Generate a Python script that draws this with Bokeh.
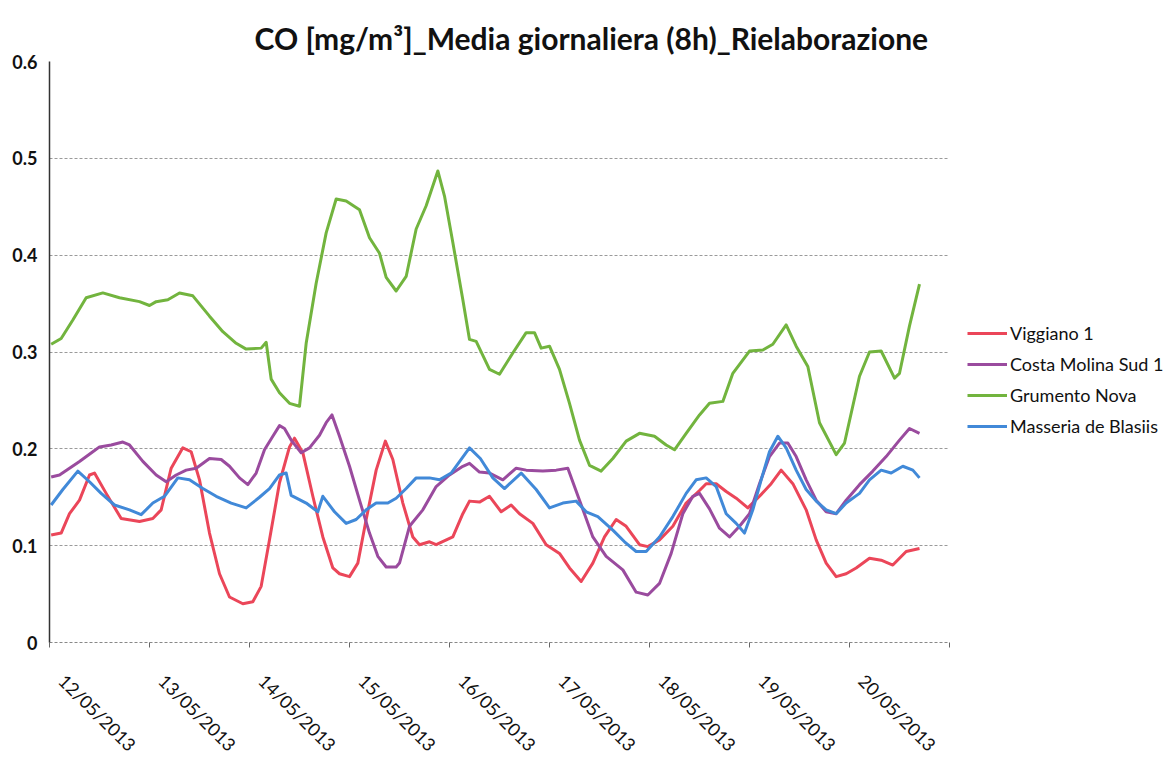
from bokeh.plotting import figure
from bokeh.models import Range1d, FixedTicker, Legend, LegendItem
from bokeh.embed import file_html
from bokeh.resources import INLINE

# hours elapsed since 12/05/2013 00:00
tick_labels = ["12/05/2013", "13/05/2013", "14/05/2013", "15/05/2013", "16/05/2013",
               "17/05/2013", "18/05/2013", "19/05/2013", "20/05/2013"]
n_days = 9
y_ticks = [0, 0.1, 0.2, 0.3, 0.4, 0.5, 0.6]
y_labels = ["0", "0.1", "0.2", "0.3", "0.4", "0.5", "0.6"]

series_names = ["Viggiano 1", "Costa Molina Sud 1", "Grumento Nova", "Masseria de Blasiis"]

viggiano_h = [0.4, 2.8, 4.8, 7.2, 9.6, 10.8, 13.6, 17.2, 21.6, 24.8, 26.8, 29.2, 32, 34, 36, 38.4, 40.8, 43.2,
              46.4, 48.8, 50.8, 52.8, 55.2, 57.6, 58.8, 60.8, 63.2, 65.6, 68, 69.6, 72, 74, 76, 78.4, 80.6,
              82.4, 84.8, 87.2, 88.8, 91.2, 92.8, 96.8, 99.2, 100.8, 103.2, 105.6, 108.4, 110.8, 112.8, 116,
              119.2, 122.4, 124.8, 127.6, 130.4, 133.2, 136, 138.4, 141.6, 143.6, 146.4, 149.6, 152.8, 156,
              157.6, 160, 162.4, 164.8, 167.6, 170.4, 173.2, 175.6, 178.4, 181.6, 184, 186.4, 188.8, 191.2,
              193.6, 196.8, 199.6, 202.4, 205.6, 208.8]
viggiano_v = [0.111, 0.113, 0.133, 0.147, 0.173, 0.175, 0.154, 0.128, 0.125, 0.128, 0.137, 0.180, 0.201, 0.197,
              0.168, 0.113, 0.071, 0.047, 0.040, 0.042, 0.058, 0.106, 0.165, 0.202, 0.211, 0.196, 0.151, 0.109,
              0.077, 0.071, 0.068, 0.082, 0.127, 0.178, 0.208, 0.189, 0.144, 0.109, 0.101, 0.104, 0.101, 0.109,
              0.133, 0.146, 0.145, 0.151, 0.135, 0.142, 0.133, 0.123, 0.101, 0.092, 0.077, 0.063, 0.082, 0.109,
              0.127, 0.120, 0.101, 0.099, 0.106, 0.120, 0.144, 0.157, 0.164, 0.164, 0.156, 0.149, 0.139, 0.151,
              0.164, 0.178, 0.164, 0.137, 0.106, 0.082, 0.068, 0.071, 0.077, 0.087, 0.085, 0.080, 0.094, 0.097]

costa_h = [0.4, 2.4, 7.2, 10.4, 12, 14.8, 17.6, 19.2, 22.4, 25.6, 28, 30.4, 32.8, 35.2, 38.4, 41.2, 43.2, 45.6,
           47.6, 49.6, 51.6, 53.6, 55.2, 56.4, 58, 60.4, 62.4, 64.8, 66.4, 67.8, 69.6, 72, 74.4, 76.8, 78.8, 80.8,
           83.2, 84, 86.4, 89.6, 92.8, 96, 99.2, 100.8, 103.2, 105.6, 108.8, 112, 114.4, 118.4, 121.6, 124.4,
           127.2, 130.4, 133.6, 137.6, 140.8, 143.6, 146.4, 149.2, 152, 154.4, 156, 158.4, 160.8, 163.2, 165.6,
           168, 170.4, 172.8, 175.2, 177.2, 179.2, 181.6, 184, 186.4, 188.8, 191.2, 194.4, 197.6, 200.8, 204,
           206.4, 208.8]
costa_v = [0.171, 0.173, 0.187, 0.197, 0.202, 0.204, 0.207, 0.204, 0.187, 0.173, 0.166, 0.173, 0.178, 0.180,
           0.190, 0.189, 0.182, 0.170, 0.163, 0.175, 0.199, 0.213, 0.224, 0.221, 0.209, 0.196, 0.201, 0.214,
           0.227, 0.235, 0.213, 0.182, 0.147, 0.113, 0.089, 0.078, 0.078, 0.082, 0.120, 0.137, 0.161, 0.173,
           0.182, 0.185, 0.176, 0.175, 0.168, 0.180, 0.178, 0.177, 0.178, 0.180, 0.147, 0.109, 0.089, 0.075,
           0.052, 0.049, 0.061, 0.092, 0.133, 0.151, 0.154, 0.138, 0.118, 0.109, 0.120, 0.133, 0.164, 0.192,
           0.206, 0.206, 0.192, 0.168, 0.147, 0.135, 0.133, 0.147, 0.163, 0.177, 0.192, 0.209, 0.221, 0.216]

grumento_h = [0.4, 2.8, 5.6, 8.8, 12.8, 16.8, 21.6, 24, 25.6, 28.4, 31.2, 34.4, 38.4, 41.6, 44.8, 47.2, 50.8,
              52, 53.2, 55.2, 57.6, 60, 61.6, 64, 66.4, 68.8, 71.2, 74.4, 76.8, 79.2, 80.8, 83.2, 85.6, 88,
              90.4, 93.2, 94.8, 96.8, 99.2, 100.8, 102.4, 105.6, 108, 111.2, 114.4, 116.4, 118, 120, 122.4,
              124.8, 127.2, 129.6, 132.4, 135.2, 138.4, 141.6, 145.2, 148, 150, 152.8, 156, 158.4, 161.6, 164,
              168, 171.2, 173.6, 176.8, 179.2, 182, 184.8, 188.8, 190.8, 194.4, 196.8, 199.6, 202.8, 204,
              206.4, 208.8]
grumento_v = [0.308, 0.314, 0.333, 0.356, 0.361, 0.356, 0.352, 0.348, 0.352, 0.354, 0.361, 0.358, 0.337,
              0.321, 0.309, 0.303, 0.304, 0.310, 0.272, 0.258, 0.247, 0.244, 0.309, 0.371, 0.423, 0.458,
              0.456, 0.447, 0.418, 0.402, 0.377, 0.363, 0.378, 0.427, 0.451, 0.487, 0.461, 0.413, 0.354,
              0.313, 0.311, 0.282, 0.277, 0.299, 0.320, 0.320, 0.304, 0.306, 0.282, 0.247, 0.209, 0.183,
              0.177, 0.190, 0.208, 0.216, 0.213, 0.204, 0.199, 0.216, 0.235, 0.247, 0.249, 0.278, 0.301,
              0.302, 0.308, 0.328, 0.306, 0.285, 0.227, 0.194, 0.206, 0.275, 0.300, 0.301, 0.273, 0.278,
              0.327, 0.370]

masseria_h = [0.4, 3.2, 6.8, 9.6, 12.4, 15.6, 19.2, 22, 24.8, 27.6, 30.8, 33.6, 36.8, 40, 43.6, 47.2, 50.4,
              52.8, 55.2, 56.8, 58, 61.6, 64.4, 65.6, 68.4, 71.2, 73.6, 76, 78.4, 81.2, 83.2, 85.6, 88, 91.2,
              93.6, 96.4, 100.8, 103.4, 106.4, 109.2, 113.2, 116.8, 120, 123.2, 126.4, 128.8, 131.6, 135.2,
              138, 140.8, 143.2, 146.4, 149.6, 152.8, 155.2, 157.6, 160, 162.4, 164.8, 166.8, 168.8, 170.8,
              172.8, 174.8, 176.8, 179.2, 181.6, 184, 186.4, 188.8, 191.2, 194.4, 196.8, 199.6, 202, 204.8,
              207.2, 208.8]
masseria_v = [0.142, 0.158, 0.177, 0.166, 0.154, 0.142, 0.137, 0.132, 0.144, 0.151, 0.170, 0.168, 0.159,
              0.151, 0.144, 0.139, 0.150, 0.159, 0.173, 0.175, 0.152, 0.144, 0.135, 0.151, 0.135, 0.123,
              0.127, 0.137, 0.144, 0.144, 0.149, 0.159, 0.170, 0.170, 0.168, 0.175, 0.201, 0.190, 0.170,
              0.159, 0.175, 0.158, 0.139, 0.144, 0.146, 0.135, 0.130, 0.116, 0.104, 0.094, 0.094, 0.109,
              0.130, 0.154, 0.168, 0.170, 0.161, 0.133, 0.123, 0.113, 0.137, 0.168, 0.197, 0.213, 0.201,
              0.178, 0.158, 0.146, 0.137, 0.133, 0.144, 0.154, 0.168, 0.178, 0.175, 0.182, 0.178, 0.170]

colors = ["#EB4659", "#9A4B9E", "#72B43E", "#4189D8"]
FONT = "Lato"

p = figure(output_backend="svg", toolbar_location=None,
           x_range=Range1d(0, 24 * n_days), y_range=Range1d(y_ticks[0], y_ticks[-1]),
           min_border_left=49, min_border_right=0, min_border_top=61, min_border_bottom=100,
           frame_width=900, frame_height=581,
           title="CO [mg/m³]_Media giornaliera (8h)_Rielaborazione")
p.outline_line_color = None
p.background_fill_color = "white"

p.title.text_font = FONT
p.title.text_font_size = "30px"
p.title.text_font_style = "bold"
p.title.align = "left"
p.title.offset = 205
p.title.standoff = 12
p.title.text_color = "#111111"

# y axis
p.yaxis.ticker = FixedTicker(ticks=y_ticks)
p.yaxis.major_label_overrides = {t: l for t, l in zip(y_ticks, y_labels)}
p.yaxis.major_label_text_font = FONT
p.yaxis.major_label_text_font_size = "18px"
p.yaxis.major_label_text_font_style = "bold"
p.yaxis.major_label_text_color = "#111111"
p.yaxis.major_tick_line_color = None
p.yaxis.major_tick_out = 0
p.yaxis.major_tick_in = 0
p.yaxis.minor_tick_line_color = None
p.yaxis.axis_line_color = "#333333"
p.yaxis.axis_line_width = 1.5
p.yaxis.major_label_standoff = 12

# x axis: tick marks at each midnight, date labels set slightly after each mark
day_marks = [24 * i for i in range(n_days + 1)]
label_pos = [24 * i + 3 for i in range(n_days)]
p.xaxis.ticker = FixedTicker(ticks=label_pos, minor_ticks=day_marks)
p.xaxis.major_label_overrides = {t: l for t, l in zip(label_pos, tick_labels)}
p.xaxis.major_label_orientation = -0.78
p.xaxis.major_label_text_font = FONT
p.xaxis.major_label_text_font_size = "18px"
p.xaxis.major_label_text_color = "#111111"
p.xaxis.major_label_standoff = 30
p.xaxis.axis_line_color = "#888888"
p.xaxis.axis_line_dash = "3 2"
p.xaxis.major_tick_line_color = None
p.xaxis.major_tick_out = 0
p.xaxis.major_tick_in = 0
p.xaxis.minor_tick_line_color = "#666666"
p.xaxis.minor_tick_out = 5
p.xaxis.minor_tick_in = 0

p.xgrid.grid_line_color = None
p.ygrid.ticker = FixedTicker(ticks=y_ticks)
p.ygrid.grid_line_color = "#9a9a9a"
p.ygrid.grid_line_dash = "3 2"
p.ygrid.grid_line_width = 1

hours = [viggiano_h, costa_h, grumento_h, masseria_h]
values = [viggiano_v, costa_v, grumento_v, masseria_v]
items = []
for name, hx, vy, c in zip(series_names, hours, values, colors):
    r = p.line(hx, vy, line_color=c, line_width=3, line_join="round")
    items.append(LegendItem(label=name, renderers=[r]))

legend = Legend(items=items, location=(18, 205), padding=0, margin=0, spacing=9,
                glyph_width=40, glyph_height=20, label_height=20, label_standoff=3,
                label_text_font=FONT, label_text_font_size="18px", label_text_color="#111111",
                border_line_color=None, background_fill_alpha=0)
p.add_layout(legend, "right")

open("out.html", "w").write(file_html(p, INLINE))
